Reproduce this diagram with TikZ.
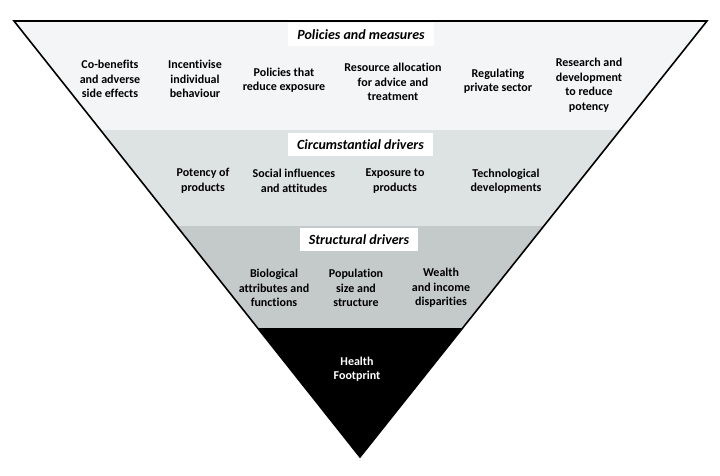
\documentclass[tikz,border=0pt]{standalone}
\usepackage{fontspec}
\setmainfont{Carlito}[Ligatures=NoCommon]
\definecolor{bandtop}{HTML}{F4F5F6}
\definecolor{bandmid}{HTML}{DDE2E2}
\definecolor{bandlow}{HTML}{C4C9C9}
\begin{document}
\begin{tikzpicture}[x=1pt, y=-1pt, every node/.style={font=\bfseries\fontsize{12}{14.5}\selectfont,
					align=center, inner sep=1pt},
					bandtitle/.style={fill=white, inner xsep=9pt, minimum height=23pt,
					font=\bfseries\itshape\fontsize{14}{16}\selectfont}]
				\useasboundingbox (0,0) rectangle (720,475);
				\coordinate (L) at (14,21);
				\coordinate (R) at (707,21);
				\coordinate (A) at (360,457);
				\begin{scope}
					\clip (L) -- (R) -- (A) -- cycle;
					\fill[bandtop] (0,0) rectangle (720,130);
					\fill[bandmid] (0,130) rectangle (720,226);
					\fill[bandlow] (0,226) rectangle (720,328);
					\fill[black] (0,328) rectangle (720,475);
				\end{scope}
				\draw[line width=1.6pt] (L) -- (R) -- (A) -- cycle;
				% policies and measures
				\node[bandtitle] (pol) at (361,34.5) {Policies and measures};
				\node (pol1) at (110,79) {Co-benefits\\and adverse\\side effects};
				\node (pol2) at (195,79) {Incentivise\\individual\\behaviour};
				\node (pol3) at (284,80) {Policies that\\reduce exposure};
				\node (pol4) at (393,82) {Resource allocation\\for advice and\\treatment};
				\node (pol5) at (498,81) {Regulating\\private sector};
				\node (pol6) at (589,85) {Research and\\development\\to reduce\\potency};
				% circumstantial drivers
				\node[bandtitle] (circ) at (360.5,144.5) {Circumstantial drivers};
				\node (circ1) at (203,181) {Potency of\\products};
				\node (circ2) at (294,181) {Social influences\\and attitudes};
				\node (circ3) at (395,181) {Exposure to\\products};
				\node (circ4) at (506,181) {Technological\\developments};
				% structural drivers
				\node[bandtitle] (struc) at (359,239.5) {Structural drivers};
				\node (struc1) at (274,288) {Biological\\attributes and\\functions};
				\node (struc2) at (356,288) {Population\\size and\\structure};
				\node (struc3) at (441,288) {Wealth\\and income\\disparities};
				\node[text=white] (foot) at (357,369) {Health\\Footprint};
			\end{tikzpicture}
\end{document}
